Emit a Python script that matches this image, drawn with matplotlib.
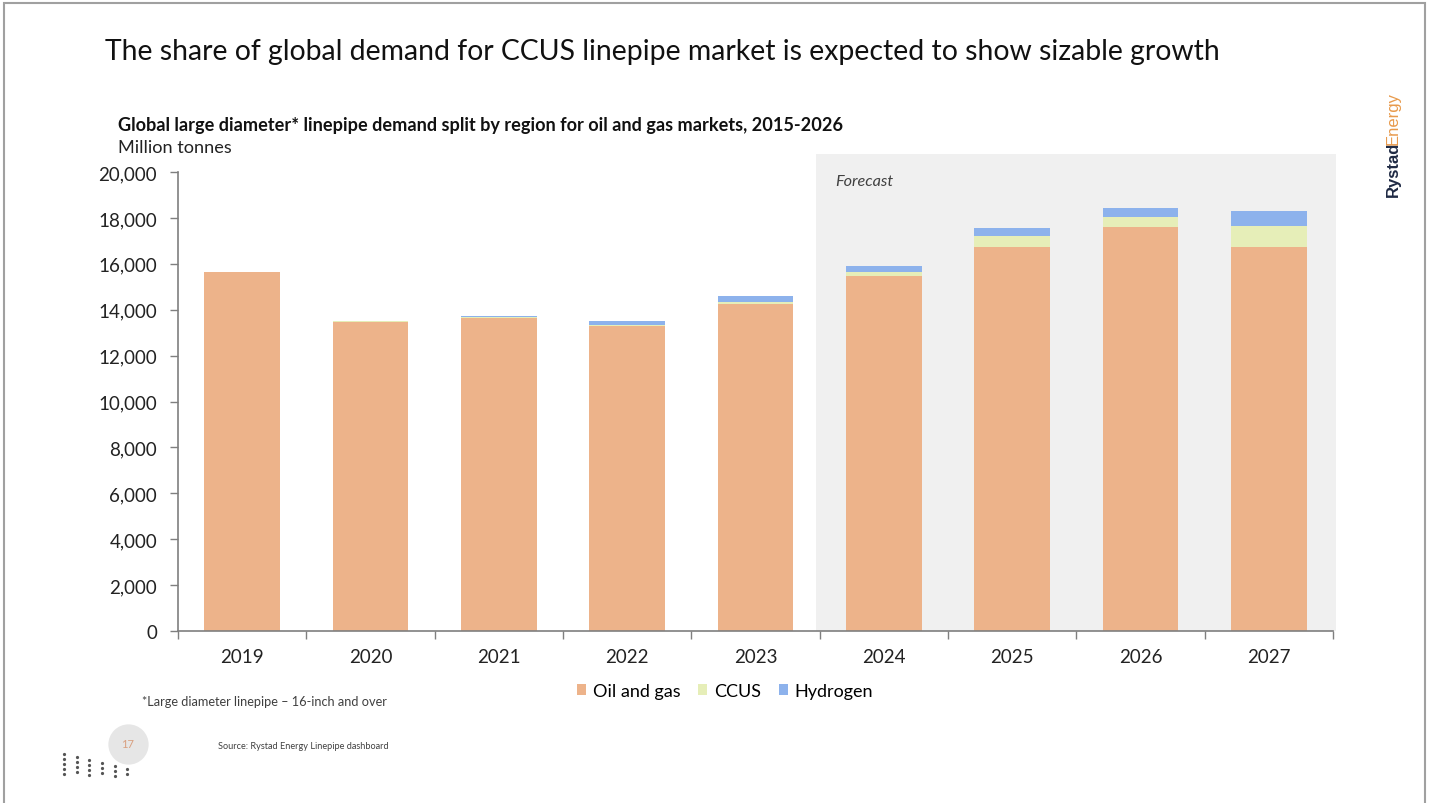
import numpy as np
import matplotlib.pyplot as plt
from matplotlib.patches import Rectangle

plt.rcParams['font.family'] = ['Lato', 'DejaVu Sans']

# dane: tys. ton wg roku
years = ['2019', '2020', '2021', '2022', '2023', '2024', '2025', '2026', '2027']
oil_gas = [15650, 13450, 13650, 13300, 14250, 15460, 16720, 17590, 16750]
ccus = [0, 50, 30, 20, 80, 200, 480, 440, 910]
hydrogen = [0, 0, 60, 190, 250, 260, 350, 390, 640]
yticks = [0, 2000, 4000, 6000, 8000, 10000, 12000, 14000, 16000, 18000, 20000]

c_oil = '#EDB38A'
c_ccus = '#E6EEB8'
c_h2 = '#8DB2EC'

W, H = 1432, 804
fig = plt.figure(figsize=(14.32, 8.04), dpi=100)
ax = fig.add_axes([0.1243, 0.2139, 0.8066, 0.5709])

def fx(px):
    return px / W

def fy(py):
    return 1 - py / H

x = np.arange(len(years))
w = 0.59

# obszar prognozy
ax.add_patch(Rectangle((4.47, 0), 8.52 - 4.47, 20780, facecolor='#F0F0F0',
                       edgecolor='none', clip_on=False, zorder=0))
ax.text(4.62, 19620, 'Forecast', fontsize=11.7, style='italic', color='#404040',
        ha='left', va='center')

b1 = ax.bar(x, oil_gas, w, color=c_oil, label='Oil and gas', zorder=2)
b2 = ax.bar(x, ccus, w, bottom=oil_gas, color=c_ccus, label='CCUS', zorder=2)
bottom2 = np.array(oil_gas) + np.array(ccus)
b3 = ax.bar(x, hydrogen, w, bottom=bottom2, color=c_h2, label='Hydrogen', zorder=2)

ax.set_xlim(-0.5, 8.5)
ax.set_ylim(0, 20000)
ax.set_yticks(yticks)
ax.set_yticklabels([f'{v:,}' for v in yticks], fontsize=13.5, color='#222222')
ax.set_xticks(x)
ax.set_xticklabels(years, fontsize=13.5, color='#222222')
ax.tick_params(axis='x', length=0, pad=12)
ax.tick_params(axis='y', length=6, width=1, color='#7f7f7f', pad=9)
ax.set_xticks(np.arange(-0.5, 9.0, 1.0), minor=True)
ax.tick_params(axis='x', which='minor', length=6, width=1, color='#7f7f7f')

for s in ['top', 'right']:
    ax.spines[s].set_visible(False)
for s in ['left', 'bottom']:
    ax.spines[s].set_color('#7f7f7f')
    ax.spines[s].set_linewidth(1.2)
ax.set_facecolor('none')

leg = fig.legend(handles=[b1, b2, b3], loc='center', bbox_to_anchor=(fx(725), fy(692)),
                 ncol=3, frameon=False, fontsize=13, handlelength=0.5, handleheight=0.5,
                 handletextpad=0.35, columnspacing=1.0)

# tytuly
fig.text(fx(105), fy(52), 'The share of global demand for CCUS linepipe market is expected to show sizable growth',
         fontsize=20.4, color='#111111', ha='left', va='center')
fig.text(fx(118), fy(125),
         'Global large diameter* linepipe demand split by region for oil and gas markets, 2015-2026',
         fontsize=13.1, fontweight='bold', color='#111111', ha='left', va='center')
fig.text(fx(118), fy(148), 'Million tonnes', fontsize=13.1, color='#222222',
         ha='left', va='center')

# stopka
fig.text(fx(142), fy(702), '*Large diameter linepipe \u2013 16-inch and over',
         fontsize=9.2, color='#404040', ha='left', va='center')
fig.lines.append(plt.Line2D([fx(128)], [fy(745)], transform=fig.transFigure, ls='none',
                            marker='o', ms=29, mfc='#E6E6E6', mec='none'))
fig.text(fx(128), fy(745), '17', fontsize=8, color='#D9A080', ha='center', va='center')
fig.text(fx(218), fy(747), 'Source: Rystad Energy Linepipe dashboard',
         fontsize=6.6, color='#404040', ha='left', va='center')

# kropki ozdobne
for i, cx in enumerate([64, 77, 89, 102, 115, 127]):
    ys = np.arange(755 + i * 3, 778, 5)
    fig.lines.append(plt.Line2D(fx(np.full(len(ys), cx)), fy(ys), transform=fig.transFigure,
                                ls='none', marker='o', ms=1.3, color='#555555'))

# logo
fig.text(fx(1393), fy(197), 'Rystad', rotation=90, fontsize=12, fontweight='bold',
         color='#1F2A44', ha='center', va='bottom', family='Liberation Sans')
fig.text(fx(1393), fy(145), 'Energy', rotation=90, fontsize=12,
         color='#E89A4C', ha='center', va='bottom', family='Liberation Sans')

# ramka slajdu
fig.patches.append(Rectangle((fx(4), -0.01), 1421 / W, 1 - 4 / H + 0.01, transform=fig.transFigure,
                             facecolor='none', edgecolor='#A0A0A0', linewidth=1.5))

fig.savefig('out.png', dpi=100)
